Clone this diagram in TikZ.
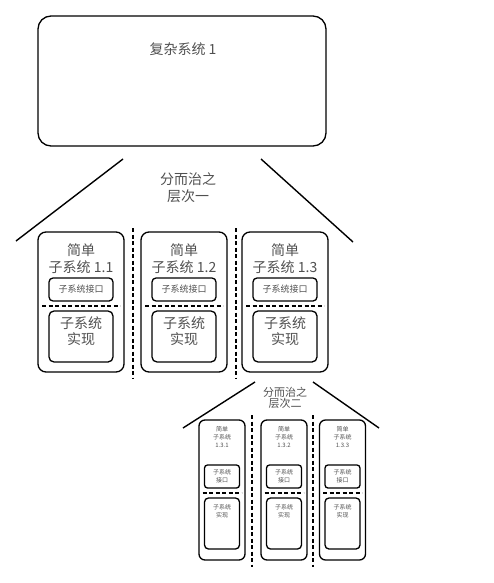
\documentclass[tikz,border=0pt]{standalone}
\usepackage{fontspec}
\setmainfont{Noto Sans CJK SC}
\usetikzlibrary{positioning}
\definecolor{txt}{HTML}{505050}

\begin{document}
\begin{tikzpicture}[x=1pt,y=-1pt,line width=1.3pt,
  sysbox/.style={draw,rounded corners=13pt,minimum width=288pt,minimum height=130pt},
  modbox/.style={draw,rounded corners=8pt,minimum width=86pt,minimum height=140pt},
  ifbox/.style={draw,rounded corners=4pt,minimum width=64pt,minimum height=23pt,font=\fontsize{9}{10}\selectfont,text=txt,inner sep=1pt},
  implbox/.style={draw,rounded corners=5pt,minimum width=64pt,minimum height=51pt,font=\fontsize{14}{16}\selectfont,text=txt,align=center,inner sep=1pt},
  title/.style={align=center,text=txt,font=\fontsize{14}{17}\selectfont,inner sep=0pt},
  smodbox/.style={draw,rounded corners=6pt,minimum width=46pt,minimum height=140pt},
  sifbox/.style={draw,rounded corners=3pt,minimum width=35pt,minimum height=23pt,font=\fontsize{6}{8}\selectfont,text=txt,align=center,inner sep=1pt},
  simplbox/.style={draw,rounded corners=4pt,minimum width=35pt,minimum height=51pt},
  stitle/.style={align=center,text=txt,font=\fontsize{6}{8}\selectfont,inner sep=0pt},
  sep/.style={dashed,dash pattern=on 4pt off 2.5pt},
  roof/.style={line width=1.4pt}]
\useasboundingbox (0,0) rectangle (493,583);
% complex system
\node[sysbox](sys) at (182,81){};
\node[text=txt,font=\fontsize{14}{16}\selectfont] (sysname) at (183,49){复杂系统 1};
% level one
\coordinate (r1a) at (123,159); \coordinate (r1b) at (16,241);
\coordinate (r1c) at (261,159); \coordinate (r1d) at (353,242);
\draw[roof] (r1a) -- (r1b); \draw[roof] (r1c) -- (r1d);
\node[title] (lvl1) at (188,188){分而治之\\层次一};
\foreach \n/\cx in {1/81,2/184,3/285}{
  \node[modbox] (m\n) at (\cx,302){};
  \node[title] (m\n t) at (\cx,258.5){简单\\子系统 1.\n};
  \node[ifbox] (m\n i) at (\cx,289.5){子系统接口};
  \coordinate (m\n l) at (\cx-39,306); \coordinate (m\n r) at (\cx+39,306);
  \draw[sep] (m\n l) -- (m\n r);
  \node[implbox] (m\n x) at (\cx,336.5){子系统\\实现\\[-4pt]};
}
\foreach \k/\cx in {1/133,2/236}{
  \coordinate (d\k a) at (\cx,228); \coordinate (d\k b) at (\cx,378);
  \draw[sep] (d\k a) -- (d\k b);
}
% level two
\coordinate (r2a) at (255,382); \coordinate (r2b) at (183,428);
\coordinate (r2c) at (313,382); \coordinate (r2d) at (379,428);
\draw[roof] (r2a) -- (r2b); \draw[roof] (r2c) -- (r2d);
\node[title,font=\fontsize{11}{11}\selectfont] (lvl2) at (285,398){分而治之\\层次二};
\foreach \n/\cx in {1/222,2/284,3/342.5}{
  \node[smodbox] (s\n) at (\cx,490){};
  \node[stitle] (s\n t) at (\cx,437){简单\\子系统\\1.3.\n};
  \node[sifbox] (s\n i) at (\cx,476.5){子系统\\接口};
  \coordinate (s\n l) at (\cx-19.5,493); \coordinate (s\n r) at (\cx+19.5,493);
  \draw[sep] (s\n l) -- (s\n r);
  \node[simplbox] (s\n x) at (\cx,523.5){};
  \node[stitle] (s\n xt) at (\cx,511){子系统\\实现};
}
\foreach \k/\cx in {1/252,2/313}{
  \coordinate (e\k a) at (\cx,415); \coordinate (e\k b) at (\cx,567);
  \draw[sep] (e\k a) -- (e\k b);
}
\end{tikzpicture}
\end{document}
